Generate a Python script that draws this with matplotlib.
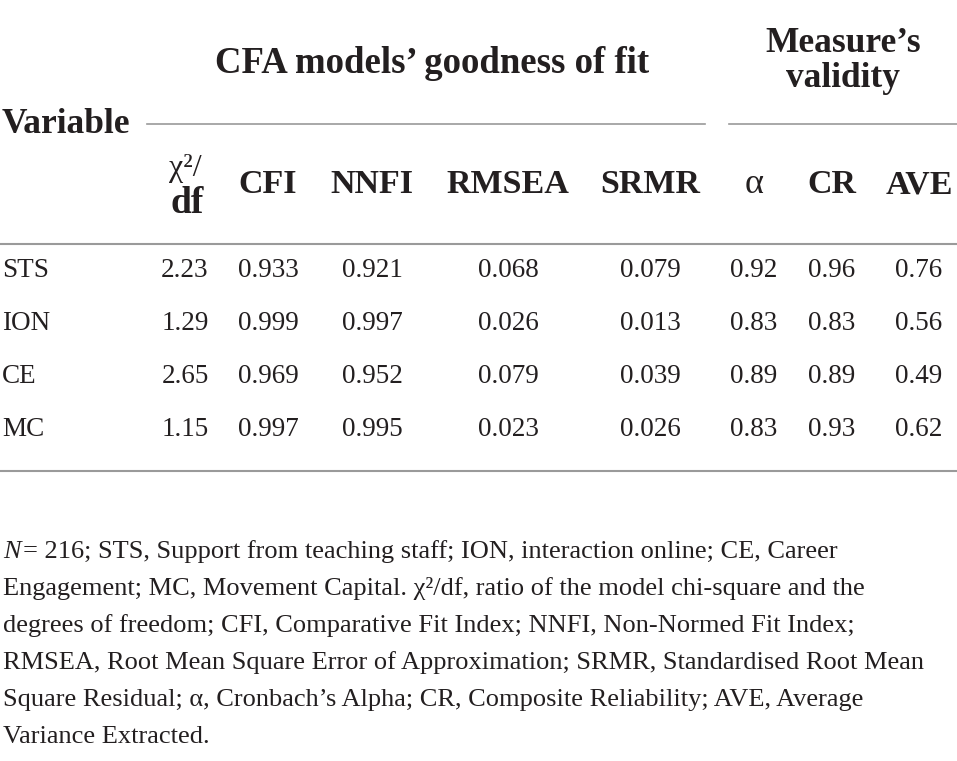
import matplotlib as mpl
mpl.use('Agg')
import matplotlib.pyplot as plt

# table data
variables = ['STS', 'ION', 'CE', 'MC']
chi_df = [2.23, 1.29, 2.65, 1.15]
cfi = [0.933, 0.999, 0.969, 0.997]
nnfi = [0.921, 0.997, 0.952, 0.995]
rmsea = [0.068, 0.026, 0.079, 0.023]
srmr = [0.079, 0.013, 0.039, 0.026]
alpha = [0.92, 0.83, 0.89, 0.83]
cr = [0.96, 0.83, 0.89, 0.93]
ave = [0.76, 0.56, 0.49, 0.62]

columns = ['CFI', 'NNFI', 'RMSEA', 'SRMR', 'α', 'CR', 'AVE']

notes = [
    '= 216; STS, Support from teaching staff; ION, interaction online; CE, Career',
    'Engagement; MC, Movement Capital. χ²/df, ratio of the model chi-square and the',
    'degrees of freedom; CFI, Comparative Fit Index; NNFI, Non-Normed Fit Index;',
    'RMSEA, Root Mean Square Error of Approximation; SRMR, Standardised Root Mean',
    'Square Residual; α, Cronbach’s Alpha; CR, Composite Reliability; AVE, Average',
    'Variance Extracted.',
]

ink = '#231f20'
rule = '#9a9a9a'
plt.rcParams['font.family'] = ['Liberation Serif', 'DejaVu Serif']

fig = plt.figure(figsize=(9.57, 7.61), dpi=100)
ax = fig.add_axes([0, 0, 1, 1])
ax.set_xlim(0, 957)
ax.set_ylim(761, 0)
ax.axis('off')

hsize = 25.5
ssize = 24.5
bsize = 19.5

# group headers
ax.text(432, 73, 'CFA models’ goodness of fit', ha='center', va='baseline',
        fontsize=26.5, fontweight='bold', color=ink)
ax.text(843, 52, 'Measure’s', ha='center', va='baseline',
        fontsize=hsize, fontweight='bold', color=ink)
ax.text(843, 87, 'validity', ha='center', va='baseline',
        fontsize=hsize, fontweight='bold', color=ink)
ax.text(2, 133, 'Variable', ha='left', va='baseline',
        fontsize=hsize, fontweight='bold', color=ink)

ax.plot([147, 705], [124, 124], color=rule, lw=1.2)
ax.plot([729, 957], [124, 124], color=rule, lw=1.2)

# sub headers
xs = [185, 268, 372, 508, 650, 754, 832, 919]
ax.text(xs[0], 176, 'χ²/', ha='center', va='baseline', fontsize=23, color=ink)
ax.text(xs[0] + 2, 213, 'df', ha='center', va='baseline',
        fontsize=27, fontweight='bold', color=ink)
for x, c in zip(xs[1:], columns):
    if c == 'α':
        ax.text(x, 193, c, ha='center', va='baseline', fontsize=26, color=ink)
    else:
        ax.text(x, 193, c, ha='center', va='baseline',
                fontsize=ssize, fontweight='bold', color=ink)

ax.plot([0, 957], [244, 244], color=rule, lw=1.5)

# body rows
cols = [(chi_df, '{:.2f}'), (cfi, '{:.3f}'), (nnfi, '{:.3f}'), (rmsea, '{:.3f}'),
        (srmr, '{:.3f}'), (alpha, '{:.2f}'), (cr, '{:.2f}'), (ave, '{:.2f}')]
for i, v in enumerate(variables):
    y = 277 + i * 53
    ax.text(2, y, v, ha='left', va='baseline', fontsize=bsize, color=ink)
    for x, (vals, fmt) in zip(xs, cols):
        ax.text(x, y, fmt.format(vals[i]), ha='center', va='baseline',
                fontsize=bsize, color=ink)

ax.plot([0, 957], [471, 471], color=rule, lw=1.5)

# footnote
nsize = 19
ax.text(3, 558, 'N', ha='left', va='baseline', fontsize=nsize,
        fontstyle='italic', color=ink)
for i, line in enumerate(notes):
    y = 558 + i * 37
    x = 23 if i == 0 else 3
    ax.text(x, y, line, ha='left', va='baseline', fontsize=nsize, color=ink)

fig.savefig('out.png', dpi=100)
